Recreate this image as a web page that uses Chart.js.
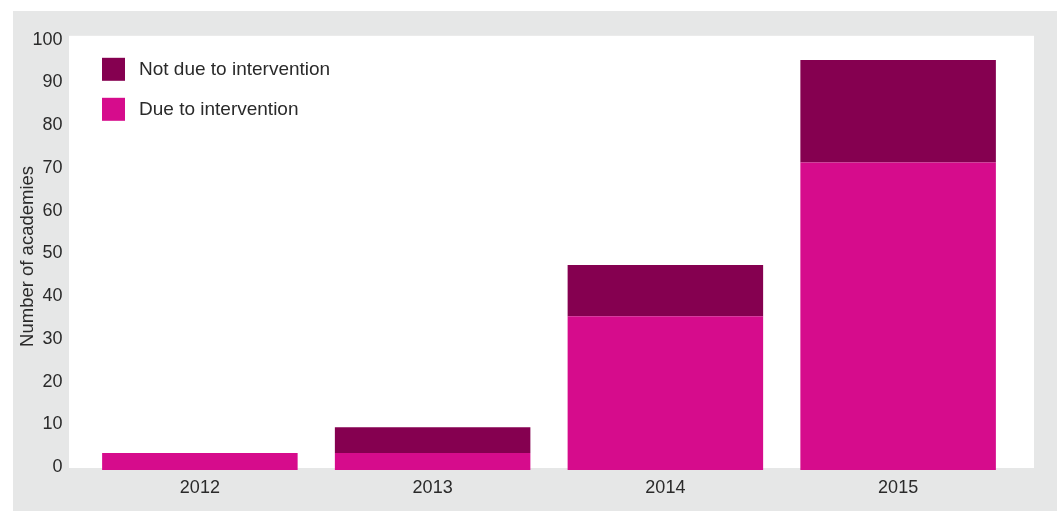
<!DOCTYPE html>
<html>
<head>
<style>
    body { margin: 0; background: #ffffff; }
    #panel { position: absolute; left: 13px; top: 11px; width: 1044px; height: 500px; background: #e6e7e7; }
</style>
</head>
<body>
    <div id="panel">
        <canvas id="myChart" width="1044" height="500"></canvas>
    </div>
    <script src="https://cdn.jsdelivr.net/npm/chart.js"></script>

    <script>
        const years = ['2012', '2013', '2014', '2015']
        const dueToIntervention = [4, 4, 36, 72]
        const notDueToIntervention = [0, 6, 12, 24]
        const yTicks = [0, 10, 20, 30, 40, 50, 60, 70, 80, 90, 100]

        const textColor = '#2a2a2a'
        const fontFamily = '"Liberation Sans", Arial, Helvetica, sans-serif'

        // white panel behind the bars, a little larger than the chart area
        const plotBackground = {
            id: 'plotBackground',
            beforeDatasetsDraw(chart) {
                const { ctx, chartArea } = chart
                ctx.save()
                ctx.fillStyle = '#ffffff'
                ctx.fillRect(chartArea.left - 14.5, chartArea.top - 7,
                    chartArea.width + 34, chartArea.height + 5)
                ctx.restore()
            }
        }

        // legend drawn inside the plot, top dataset first
        const insideLegend = {
            id: 'insideLegend',
            afterDraw(chart) {
                const { ctx, chartArea } = chart
                const sets = chart.data.datasets.slice().reverse()
                ctx.save()
                ctx.font = '19px ' + fontFamily
                ctx.textBaseline = 'middle'
                sets.forEach((ds, i) => {
                    const x = chartArea.left + 18.5
                    const y = chartArea.top + 15 + i * 40
                    ctx.fillStyle = ds.backgroundColor
                    ctx.fillRect(x, y, 23, 23)
                    ctx.fillStyle = textColor
                    ctx.fillText(ds.label, x + 37, y + 12)
                })
                ctx.restore()
            }
        }

        const canvas = document.getElementById('myChart').getContext('2d')
        const chart = new Chart(canvas, {
            type: 'bar',
            data: {
                labels: years,
                datasets: [
                    {
                        label: 'Due to intervention',
                        data: dueToIntervention,
                        backgroundColor: '#d60c8c',
                        barPercentage: 0.84,
                        categoryPercentage: 1
                    },
                    {
                        label: 'Not due to intervention',
                        data: notDueToIntervention,
                        backgroundColor: '#850050',
                        barPercentage: 0.84,
                        categoryPercentage: 1
                    }
                ]
            },
            options: {
                responsive: false,
                animation: false,
                layout: { padding: { left: 0, top: 30, right: 42.5, bottom: 13.4 } },
                plugins: {
                    legend: { display: false },
                    tooltip: { enabled: false }
                },
                scales: {
                    x: {
                        stacked: true,
                        afterFit: (scale) => { scale.height = 27.6 },
                        grid: { display: false, drawTicks: false },
                        border: { display: false },
                        ticks: { color: textColor, padding: 7, font: { family: fontFamily, size: 18 } }
                    },
                    y: {
                        stacked: true,
                        min: 0,
                        max: 100,
                        afterBuildTicks: (scale) => { scale.ticks = yTicks.map(v => ({ value: v })) },
                        afterFit: (scale) => { scale.width = 70.5 },
                        grid: { display: false, drawTicks: false },
                        border: { display: false },
                        ticks: {
                            color: textColor,
                            padding: 21,
                            labelOffset: -3,
                            font: { family: fontFamily, size: 18 }
                        },
                        title: {
                            display: true,
                            text: 'Number of academies',
                            color: textColor,
                            padding: { top: 4, bottom: 4 },
                            font: { family: fontFamily, size: 18.5 }
                        }
                    }
                }
            },
            plugins: [plotBackground, insideLegend]
        })
    </script>
</body>
</html>
